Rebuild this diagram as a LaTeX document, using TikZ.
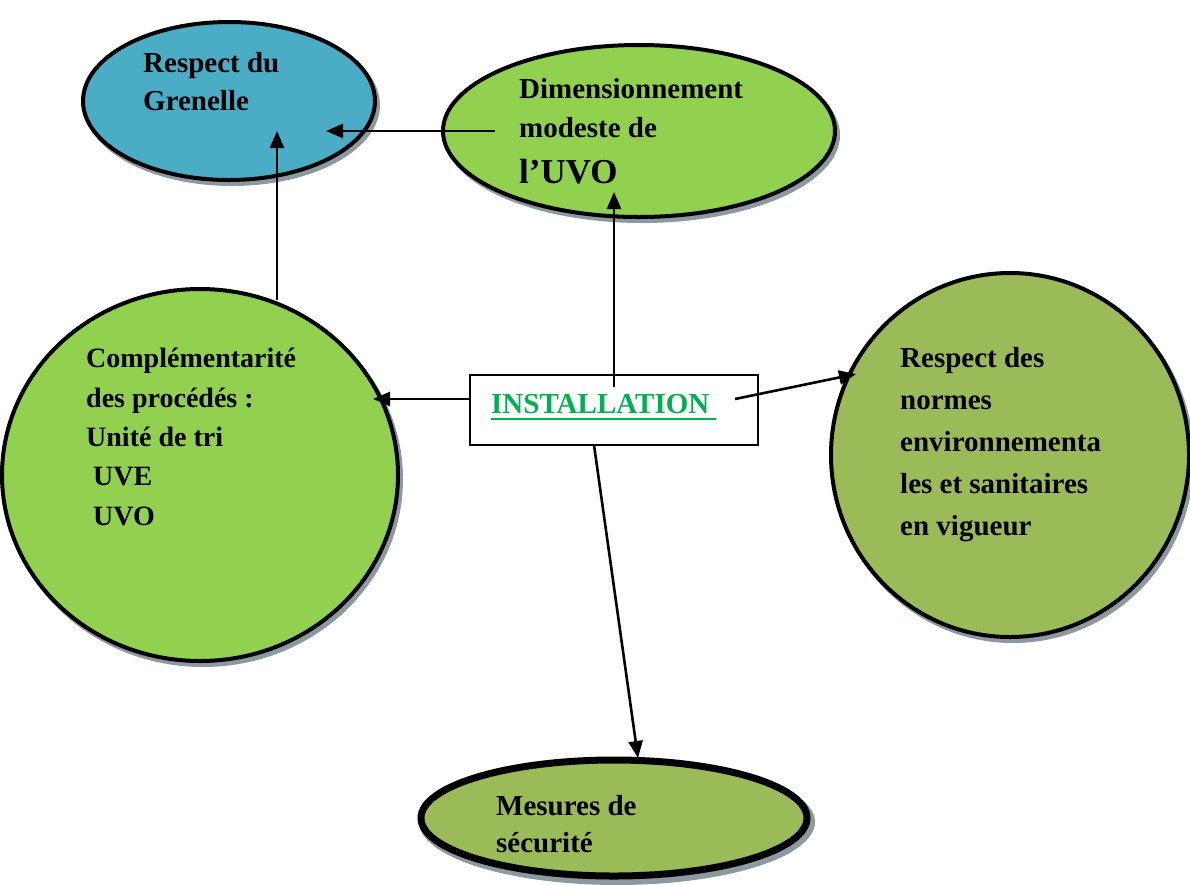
\documentclass[tikz,border=0pt]{standalone}
\usepackage{fontspec}
\setmainfont{Liberation Serif}
\usetikzlibrary{shapes.geometric,arrows.meta}
\definecolor{cblue}{HTML}{4BACC6}
\definecolor{cgreen}{HTML}{92D050}
\definecolor{colive}{HTML}{9BBB59}
\definecolor{ctext}{HTML}{00B050}
\definecolor{cshadow}{HTML}{8C9AA0}
\tikzset{
  bubble/.style={ellipse, draw=black, line width=4pt, inner sep=0pt},
  shadowed/.style={ellipse, fill=cshadow, draw=none, inner sep=0pt},
  lbl/.style={anchor=base west, align=left, inner sep=0pt},
  link/.style={line width=2.6pt, -{Triangle[length=17pt,width=14pt]}},
}
\begin{document}
\begin{tikzpicture}[x=1pt,y=-1pt]
\useasboundingbox (0,0) rectangle (1190,884);
% shadows
\node[shadowed, minimum width=296pt, minimum height=162pt] at (232,105) {};
\node[shadowed, minimum width=396pt, minimum height=176pt] at (642,135) {};
\node[shadowed, minimum width=400pt, minimum height=376pt] at (203,479) {};
\node[shadowed, minimum width=362pt, minimum height=368pt] at (1013,459) {};
\node[shadowed, minimum width=396pt, minimum height=126pt] at (617,822) {};
% ellipses
\node[bubble, fill=cblue, minimum width=292pt, minimum height=158pt] (gren) at (229,101) {};
\node[bubble, fill=cgreen, minimum width=392pt, minimum height=172pt] (dim) at (639,131) {};
\node[bubble, fill=cgreen, minimum width=396pt, minimum height=372pt] (comp) at (200,475) {};
\node[bubble, fill=colive, minimum width=358pt, minimum height=364pt] (norm) at (1010,455) {};
\node[bubble, fill=colive, line width=7pt, minimum width=386pt, minimum height=116pt] (mes) at (614,818) {};
% central box
\node[draw=black, line width=2.5pt, fill=white, minimum width=288pt, minimum height=70pt, inner sep=0pt] (inst) at (614,410) {};
% texts (anchored at the baseline of the last line)
\node[lbl, font=\fontsize{29}{38}\selectfont\bfseries] (tgren) at (143,110) {Respect du\\Grenelle};
\node[lbl, font=\fontsize{29}{39}\selectfont\bfseries] (tdim) at (519,137) {Dimensionnement\\modeste de};
\node[lbl, font=\fontsize{35}{40}\selectfont\bfseries] (tuvo) at (519,183) {l’UVO};
\node[lbl, font=\fontsize{28}{39.3}\selectfont\bfseries] (tcomp) at (86,525) {Complémentarité\\des procédés :\\Unité de tri\\\ UVE\\\ UVO};
\node[lbl, font=\fontsize{29}{42}\selectfont\bfseries] (tnorm) at (900,535) {Respect des\\normes\\environnementa\\les et sanitaires\\en vigueur};
\node[lbl, font=\fontsize{29}{37}\selectfont\bfseries] (tmes) at (496,852) {Mesures de\\sécurité};
\node[lbl, text=ctext, font=\fontsize{29}{35}\selectfont\bfseries] (tinst) at (491,413) {INSTALLATION};
\draw[ctext, line width=2.2pt] (tinst.base west) ++(0,6) -- ++(225,0);
% connector endpoints
\coordinate (a1s) at (495,131); \coordinate (a1e) at (326,131);
\coordinate (a2s) at (277,300); \coordinate (a2e) at (277,131);
\coordinate (a3s) at (614,387); \coordinate (a3e) at (614,192);
\coordinate (a4s) at (471,399); \coordinate (a4e) at (373,399);
\coordinate (a5s) at (735,399); \coordinate (a5e) at (856,374);
\coordinate (a6s) at (594,445); \coordinate (a6e) at (638,758);
\draw[link] (a1s) -- (a1e);
\draw[link] (a2s) -- (a2e);
\draw[link] (a3s) -- (a3e);
\draw[link] (a4s) -- (a4e);
\draw[link] (a5s) -- (a5e);
\draw[link] (a6s) -- (a6e);
\end{tikzpicture}
\end{document}
